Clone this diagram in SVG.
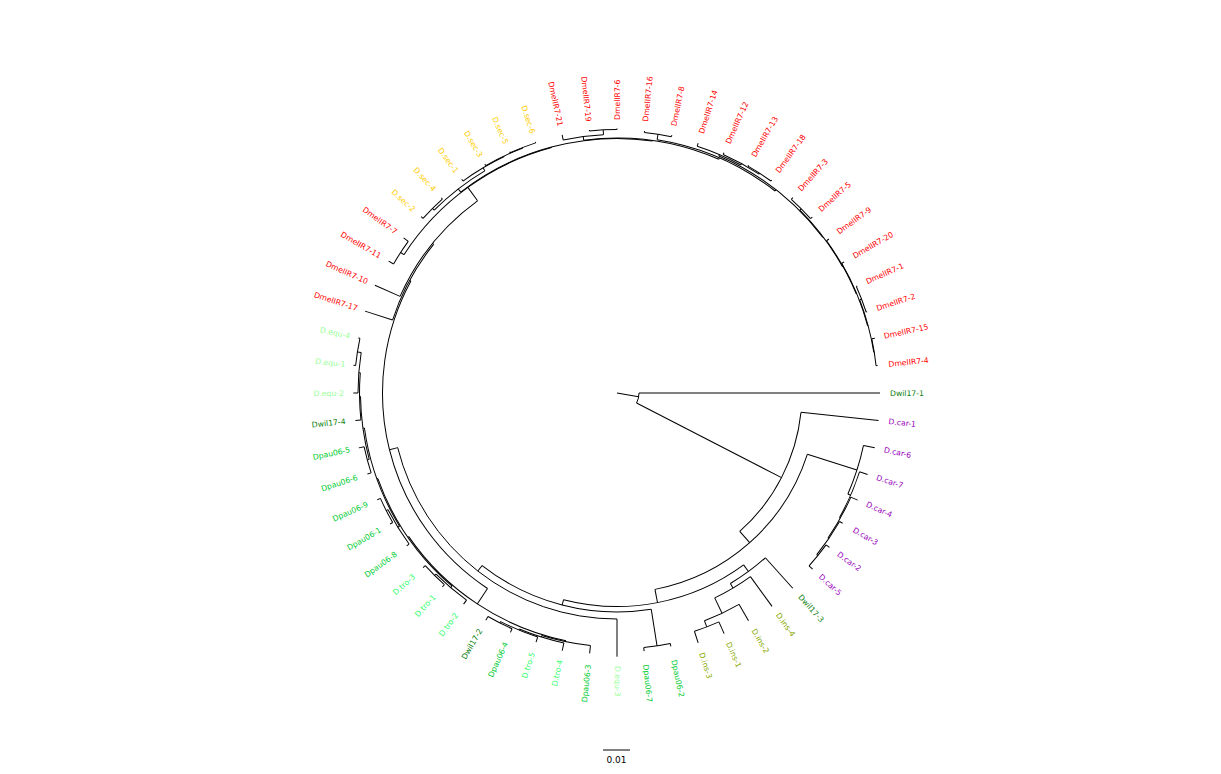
<svg xmlns="http://www.w3.org/2000/svg" width="1221" height="774" viewBox="0 0 1221 774">
<style>
text{font-family:"DejaVu Sans","Liberation Sans",sans-serif;font-size:7.7px;dominant-baseline:central}
.l{text-anchor:end}
.br path,.br circle{fill:none;stroke:#000;stroke-width:1}
.mel{fill:#ff0000}.sec{fill:#ffcc00}.equ{fill:#99ff99}.wil{fill:#0b800b}.pau{fill:#00cc33}.tro{fill:#33ff6e}.car{fill:#9900bb}.ins{fill:#88aa00}
</style>
<rect width="1221" height="774" fill="#fff"/>
<g id="connectors" class="br" transform="translate(617 393)">
<path d="M0 0H22" transform="rotate(10)"/>
<circle r="22" pathLength="360" stroke-dasharray="27.22 720"/>
<path d="M22 0H263"/>
<path d="M22 0H185" transform="rotate(27.22)"/>
<circle r="185" pathLength="360" stroke-dasharray="42.44 720" transform="rotate(6)"/>
<path d="M185 0H263" transform="rotate(6)"/>
<path d="M185 0H200" transform="rotate(48.44)"/>
<circle r="200" pathLength="360" stroke-dasharray="61.25 720" transform="rotate(17.81)"/>
<path d="M200 0H252" transform="rotate(17.81)"/>
<circle r="252" pathLength="360" stroke-dasharray="11.63 720" transform="rotate(12)"/>
<path d="M252 0H263.5" transform="rotate(12)"/>
<path d="M252 0H255" transform="rotate(23.63)"/>
<circle r="255" pathLength="360" stroke-dasharray="11.25 720" transform="rotate(18)"/>
<path d="M255 0H263.5" transform="rotate(18)"/>
<path d="M255 0H256" transform="rotate(29.25)"/>
<circle r="256" pathLength="360" stroke-dasharray="10.5 720" transform="rotate(24)"/>
<path d="M256 0H263.4" transform="rotate(24)"/>
<path d="M256 0H257" transform="rotate(34.5)"/>
<circle r="257" pathLength="360" stroke-dasharray="9 720" transform="rotate(30)"/>
<path d="M257 0H260.5" transform="rotate(30)"/>
<path d="M257 0H258.4" transform="rotate(39)"/>
<circle r="258.4" pathLength="360" stroke-dasharray="6 720" transform="rotate(36)"/>
<path d="M258.4 0H262.6" transform="rotate(36)"/>
<path d="M258.4 0H263.2" transform="rotate(42)"/>
<path d="M200 0H213.5" transform="rotate(79.06)"/>
<circle r="213.5" pathLength="360" stroke-dasharray="50.87 720" transform="rotate(53.63)"/>
<path d="M213.5 0H221.7" transform="rotate(53.63)"/>
<circle r="221.7" pathLength="360" stroke-dasharray="11.25 720" transform="rotate(48)"/>
<path d="M221.7 0H262.7" transform="rotate(48)"/>
<path d="M221.7 0H227" transform="rotate(59.25)"/>
<circle r="227" pathLength="360" stroke-dasharray="10.5 720" transform="rotate(54)"/>
<path d="M227 0H263.8" transform="rotate(54)"/>
<path d="M227 0H244" transform="rotate(64.5)"/>
<circle r="244" pathLength="360" stroke-dasharray="9 720" transform="rotate(60)"/>
<path d="M244 0H263" transform="rotate(60)"/>
<path d="M244 0H250.5" transform="rotate(69)"/>
<circle r="250.5" pathLength="360" stroke-dasharray="6 720" transform="rotate(66)"/>
<path d="M250.5 0H263.4" transform="rotate(66)"/>
<path d="M250.5 0H262.7" transform="rotate(72)"/>
<path d="M213.5 0H219" transform="rotate(104.5)"/>
<circle r="219" pathLength="360" stroke-dasharray="47.01 720" transform="rotate(81)"/>
<path d="M219 0H256" transform="rotate(81)"/>
<circle r="256" pathLength="360" stroke-dasharray="6 720" transform="rotate(78)"/>
<path d="M256 0H259" transform="rotate(78)"/>
<path d="M256 0H259.5" transform="rotate(84)"/>
<path d="M219 0H226" transform="rotate(128.01)"/>
<circle r="226" pathLength="360" stroke-dasharray="76.01 720" transform="rotate(90)"/>
<path d="M226 0H263.7" transform="rotate(90)"/>
<path d="M226 0H234.5" transform="rotate(166.01)"/>
<circle r="234.5" pathLength="360" stroke-dasharray="84.99 720" transform="rotate(123.52)"/>
<path d="M234.5 0H253" transform="rotate(123.52)"/>
<circle r="253" pathLength="360" stroke-dasharray="43.78 720" transform="rotate(101.63)"/>
<path d="M253 0H254" transform="rotate(101.63)"/>
<circle r="254" pathLength="360" stroke-dasharray="11.25 720" transform="rotate(96)"/>
<path d="M254 0H261.8" transform="rotate(96)"/>
<path d="M254 0H255.5" transform="rotate(107.25)"/>
<circle r="255.5" pathLength="360" stroke-dasharray="10.5 720" transform="rotate(102)"/>
<path d="M255.5 0H263.5" transform="rotate(102)"/>
<path d="M255.5 0H256.5" transform="rotate(112.5)"/>
<circle r="256.5" pathLength="360" stroke-dasharray="9 720" transform="rotate(108)"/>
<path d="M256.5 0H262" transform="rotate(108)"/>
<path d="M256.5 0H258" transform="rotate(117)"/>
<circle r="258" pathLength="360" stroke-dasharray="6 720" transform="rotate(114)"/>
<path d="M258 0H262" transform="rotate(114)"/>
<path d="M258 0H262.4" transform="rotate(120)"/>
<path d="M253 0H254" transform="rotate(145.41)"/>
<circle r="254" pathLength="360" stroke-dasharray="29.81 720" transform="rotate(130.5)"/>
<path d="M254 0H256" transform="rotate(130.5)"/>
<circle r="256" pathLength="360" stroke-dasharray="9 720" transform="rotate(126)"/>
<path d="M256 0H261" transform="rotate(126)"/>
<path d="M256 0H258" transform="rotate(135)"/>
<circle r="258" pathLength="360" stroke-dasharray="6 720" transform="rotate(132)"/>
<path d="M258 0H261" transform="rotate(132)"/>
<path d="M258 0H261" transform="rotate(138)"/>
<path d="M254 0H255" transform="rotate(160.31)"/>
<circle r="255" pathLength="360" stroke-dasharray="23.63 720" transform="rotate(148.5)"/>
<path d="M255 0H257" transform="rotate(148.5)"/>
<circle r="257" pathLength="360" stroke-dasharray="9 720" transform="rotate(144)"/>
<path d="M257 0H260" transform="rotate(144)"/>
<path d="M257 0H259" transform="rotate(153)"/>
<circle r="259" pathLength="360" stroke-dasharray="6 720" transform="rotate(150)"/>
<path d="M259 0H262" transform="rotate(150)"/>
<path d="M259 0H262.4" transform="rotate(156)"/>
<path d="M255 0H256.5" transform="rotate(172.13)"/>
<circle r="256.5" pathLength="360" stroke-dasharray="14.25 720" transform="rotate(165)"/>
<path d="M256.5 0H258.5" transform="rotate(165)"/>
<circle r="258.5" pathLength="360" stroke-dasharray="6 720" transform="rotate(162)"/>
<path d="M258.5 0H262.4" transform="rotate(162)"/>
<path d="M258.5 0H263.9" transform="rotate(168)"/>
<path d="M256.5 0H257.5" transform="rotate(179.25)"/>
<circle r="257.5" pathLength="360" stroke-dasharray="10.5 720" transform="rotate(174)"/>
<path d="M257.5 0H263" transform="rotate(174)"/>
<path d="M257.5 0H259" transform="rotate(184.5)"/>
<circle r="259" pathLength="360" stroke-dasharray="9 720" transform="rotate(180)"/>
<path d="M259 0H263.7" transform="rotate(180)"/>
<path d="M259 0H262.8" transform="rotate(189)"/>
<circle r="262.8" pathLength="360" stroke-dasharray="6 720" transform="rotate(186)"/>
<path d="M262.8 0H265" transform="rotate(186)"/>
<path d="M262.8 0H264.4" transform="rotate(192)"/>
<path d="M234.5 0H236" transform="rotate(208.51)"/>
<circle r="236" pathLength="360" stroke-dasharray="21.02 720" transform="rotate(198)"/>
<path d="M236 0H265" transform="rotate(198)"/>
<path d="M236 0H237.5" transform="rotate(219.02)"/>
<circle r="237.5" pathLength="360" stroke-dasharray="30.04 720" transform="rotate(204)"/>
<path d="M237.5 0H265" transform="rotate(204)"/>
<path d="M237.5 0H254" transform="rotate(234.04)"/>
<circle r="254" pathLength="360" stroke-dasharray="42.07 720" transform="rotate(213)"/>
<path d="M254 0H258" transform="rotate(213)"/>
<circle r="258" pathLength="360" stroke-dasharray="6 720" transform="rotate(210)"/>
<path d="M258 0H263.7" transform="rotate(210)"/>
<path d="M258 0H263.8" transform="rotate(216)"/>
<path d="M254 0H254.5" transform="rotate(255.07)"/>
<circle r="254.5" pathLength="360" stroke-dasharray="45.89 720" transform="rotate(232.13)"/>
<path d="M254.5 0H258.5" transform="rotate(232.13)"/>
<circle r="258.5" pathLength="360" stroke-dasharray="14.25 720" transform="rotate(225)"/>
<path d="M258.5 0H261" transform="rotate(225)"/>
<circle r="261" pathLength="360" stroke-dasharray="6 720" transform="rotate(222)"/>
<path d="M261 0H263.6" transform="rotate(222)"/>
<path d="M261 0H262.5" transform="rotate(228)"/>
<path d="M258.5 0H262" transform="rotate(239.25)"/>
<circle r="262" pathLength="360" stroke-dasharray="10.5 720" transform="rotate(234)"/>
<path d="M262 0H264.2" transform="rotate(234)"/>
<path d="M262 0H262.5" transform="rotate(244.5)"/>
<circle r="262.5" pathLength="360" stroke-dasharray="9 720" transform="rotate(240)"/>
<path d="M262.5 0H264.3" transform="rotate(240)"/>
<path d="M262.5 0H263" transform="rotate(249)"/>
<circle r="263" pathLength="360" stroke-dasharray="6 720" transform="rotate(246)"/>
<path d="M263 0H264" transform="rotate(246)"/>
<path d="M263 0H264" transform="rotate(252)"/>
<path d="M254.5 0H255" transform="rotate(278.02)"/>
<circle r="255" pathLength="360" stroke-dasharray="31.03 720" transform="rotate(262.5)"/>
<path d="M255 0H258.6" transform="rotate(262.5)"/>
<circle r="258.6" pathLength="360" stroke-dasharray="9 720" transform="rotate(258)"/>
<path d="M258.6 0H263.9" transform="rotate(258)"/>
<path d="M258.6 0H263.4" transform="rotate(267)"/>
<circle r="263.4" pathLength="360" stroke-dasharray="6 720" transform="rotate(264)"/>
<path d="M263.4 0H264.5" transform="rotate(264)"/>
<path d="M263.4 0H264.5" transform="rotate(270)"/>
<path d="M255 0H256.5" transform="rotate(293.53)"/>
<circle r="256.5" pathLength="360" stroke-dasharray="29.06 720" transform="rotate(279)"/>
<path d="M256.5 0H262" transform="rotate(279)"/>
<circle r="262" pathLength="360" stroke-dasharray="6 720" transform="rotate(276)"/>
<path d="M262 0H263.5" transform="rotate(276)"/>
<path d="M262 0H263.7" transform="rotate(282)"/>
<path d="M256.5 0H258" transform="rotate(308.06)"/>
<circle r="258" pathLength="360" stroke-dasharray="29.63 720" transform="rotate(293.25)"/>
<path d="M258 0H259.5" transform="rotate(293.25)"/>
<circle r="259.5" pathLength="360" stroke-dasharray="10.5 720" transform="rotate(288)"/>
<path d="M259.5 0H262.7" transform="rotate(288)"/>
<path d="M259.5 0H261" transform="rotate(298.5)"/>
<circle r="261" pathLength="360" stroke-dasharray="9 720" transform="rotate(294)"/>
<path d="M261 0H263" transform="rotate(294)"/>
<path d="M261 0H262" transform="rotate(303)"/>
<circle r="262" pathLength="360" stroke-dasharray="6 720" transform="rotate(300)"/>
<path d="M262 0H263.1" transform="rotate(300)"/>
<path d="M262 0H263.2" transform="rotate(306)"/>
<path d="M258 0H258.5" transform="rotate(322.88)"/>
<circle r="258.5" pathLength="360" stroke-dasharray="15.75 720" transform="rotate(315)"/>
<path d="M258.5 0H260.5" transform="rotate(315)"/>
<circle r="260.5" pathLength="360" stroke-dasharray="6 720" transform="rotate(312)"/>
<path d="M260.5 0H262.8" transform="rotate(312)"/>
<path d="M260.5 0H262.8" transform="rotate(318)"/>
<path d="M258.5 0H259" transform="rotate(330.75)"/>
<circle r="259" pathLength="360" stroke-dasharray="13.5 720" transform="rotate(324)"/>
<path d="M259 0H262" transform="rotate(324)"/>
<path d="M259 0H259.5" transform="rotate(337.5)"/>
<circle r="259.5" pathLength="360" stroke-dasharray="15 720" transform="rotate(330)"/>
<path d="M259.5 0H262.3" transform="rotate(330)"/>
<path d="M259.5 0H260" transform="rotate(345)"/>
<circle r="260" pathLength="360" stroke-dasharray="12 720" transform="rotate(339)"/>
<path d="M260 0H262" transform="rotate(339)"/>
<circle r="262" pathLength="360" stroke-dasharray="6 720" transform="rotate(336)"/>
<path d="M262 0H263" transform="rotate(336)"/>
<path d="M262 0H263" transform="rotate(342)"/>
<path d="M260 0H260.5" transform="rotate(351)"/>
<circle r="260.5" pathLength="360" stroke-dasharray="6 720" transform="rotate(348)"/>
<path d="M260.5 0H263.6" transform="rotate(348)"/>
<path d="M260.5 0H262" transform="rotate(354)"/>
</g>
<g id="tips" transform="translate(617 393)">
<g id="t0"><text class="wil" transform="rotate(0) translate(273 0)">Dwil17-1</text></g>
<g id="t1"><text class="car" transform="rotate(6) translate(273 0)">D.car-1</text></g>
<g id="t2"><text class="car" transform="rotate(12) translate(273 0)">D.car-6</text></g>
<g id="t3"><text class="car" transform="rotate(18) translate(273 0)">D.car-7</text></g>
<g id="t4"><text class="car" transform="rotate(24) translate(273 0)">D.car-4</text></g>
<g id="t5"><text class="car" transform="rotate(30) translate(273 0)">D.car-3</text></g>
<g id="t6"><text class="car" transform="rotate(36) translate(273 0)">D.car-2</text></g>
<g id="t7"><text class="car" transform="rotate(42) translate(273 0)">D.car-5</text></g>
<g id="t8"><text class="wil" transform="rotate(48) translate(273 0)">Dwil17-3</text></g>
<g id="t9"><text class="ins" transform="rotate(54) translate(273 0)">D.ins-4</text></g>
<g id="t10"><text class="ins" transform="rotate(60) translate(273 0)">D.ins-2</text></g>
<g id="t11"><text class="ins" transform="rotate(66) translate(273 0)">D.ins-1</text></g>
<g id="t12"><text class="ins" transform="rotate(72) translate(273 0)">D.ins-3</text></g>
<g id="t13"><text class="pau" transform="rotate(78) translate(273 0)">Dpau06-2</text></g>
<g id="t14"><text class="pau" transform="rotate(84) translate(273 0)">Dpau06-7</text></g>
<g id="t15"><text class="equ" transform="rotate(90) translate(273 0)">D.equ-3</text></g>
<g id="t16"><text class="pau l" transform="rotate(96) translate(273 0) rotate(180)">Dpau06-3</text></g>
<g id="t17"><text class="tro l" transform="rotate(102) translate(273 0) rotate(180)">D.tro-4</text></g>
<g id="t18"><text class="tro l" transform="rotate(108) translate(273 0) rotate(180)">D.tro-5</text></g>
<g id="t19"><text class="pau l" transform="rotate(114) translate(273 0) rotate(180)">Dpau06-4</text></g>
<g id="t20"><text class="wil l" transform="rotate(120) translate(273 0) rotate(180)">Dwil17-2</text></g>
<g id="t21"><text class="tro l" transform="rotate(126) translate(273 0) rotate(180)">D.tro-2</text></g>
<g id="t22"><text class="tro l" transform="rotate(132) translate(273 0) rotate(180)">D.tro-1</text></g>
<g id="t23"><text class="tro l" transform="rotate(138) translate(273 0) rotate(180)">D.tro-3</text></g>
<g id="t24"><text class="pau l" transform="rotate(144) translate(273 0) rotate(180)">Dpau06-8</text></g>
<g id="t25"><text class="pau l" transform="rotate(150) translate(273 0) rotate(180)">Dpau06-1</text></g>
<g id="t26"><text class="pau l" transform="rotate(156) translate(273 0) rotate(180)">Dpau06-9</text></g>
<g id="t27"><text class="pau l" transform="rotate(162) translate(273 0) rotate(180)">Dpau06-6</text></g>
<g id="t28"><text class="pau l" transform="rotate(168) translate(273 0) rotate(180)">Dpau06-5</text></g>
<g id="t29"><text class="wil l" transform="rotate(174) translate(273 0) rotate(180)">Dwil17-4</text></g>
<g id="t30"><text class="equ l" transform="rotate(180) translate(273 0) rotate(180)">D.equ-2</text></g>
<g id="t31"><text class="equ l" transform="rotate(186) translate(273 0) rotate(180)">D.equ-1</text></g>
<g id="t32"><text class="equ l" transform="rotate(192) translate(273 0) rotate(180)">D.equ-4</text></g>
<g id="t33"><text class="mel l" transform="rotate(198) translate(273 0) rotate(180)">DmelIR7-17</text></g>
<g id="t34"><text class="mel l" transform="rotate(204) translate(273 0) rotate(180)">DmelIR7-10</text></g>
<g id="t35"><text class="mel l" transform="rotate(210) translate(273 0) rotate(180)">DmelIR7-11</text></g>
<g id="t36"><text class="mel l" transform="rotate(216) translate(273 0) rotate(180)">DmelIR7-7</text></g>
<g id="t37"><text class="sec l" transform="rotate(222) translate(273 0) rotate(180)">D.sec-2</text></g>
<g id="t38"><text class="sec l" transform="rotate(228) translate(273 0) rotate(180)">D.sec-4</text></g>
<g id="t39"><text class="sec l" transform="rotate(234) translate(273 0) rotate(180)">D.sec-1</text></g>
<g id="t40"><text class="sec l" transform="rotate(240) translate(273 0) rotate(180)">D.sec-3</text></g>
<g id="t41"><text class="sec l" transform="rotate(246) translate(273 0) rotate(180)">D.sec-5</text></g>
<g id="t42"><text class="sec l" transform="rotate(252) translate(273 0) rotate(180)">D.sec-6</text></g>
<g id="t43"><text class="mel l" transform="rotate(258) translate(273 0) rotate(180)">DmelIR7-21</text></g>
<g id="t44"><text class="mel l" transform="rotate(264) translate(273 0) rotate(180)">DmelIR7-19</text></g>
<g id="t45"><text class="mel" transform="rotate(270) translate(273 0)">DmelIR7-6</text></g>
<g id="t46"><text class="mel" transform="rotate(276) translate(273 0)">DmelIR7-16</text></g>
<g id="t47"><text class="mel" transform="rotate(282) translate(273 0)">DmelIR7-8</text></g>
<g id="t48"><text class="mel" transform="rotate(288) translate(273 0)">DmelIR7-14</text></g>
<g id="t49"><text class="mel" transform="rotate(294) translate(273 0)">DmelIR7-12</text></g>
<g id="t50"><text class="mel" transform="rotate(300) translate(273 0)">DmelIR7-13</text></g>
<g id="t51"><text class="mel" transform="rotate(306) translate(273 0)">DmelIR7-18</text></g>
<g id="t52"><text class="mel" transform="rotate(312) translate(273 0)">DmelIR7-3</text></g>
<g id="t53"><text class="mel" transform="rotate(318) translate(273 0)">DmelIR7-5</text></g>
<g id="t54"><text class="mel" transform="rotate(324) translate(273 0)">DmelIR7-9</text></g>
<g id="t55"><text class="mel" transform="rotate(330) translate(273 0)">DmelIR7-20</text></g>
<g id="t56"><text class="mel" transform="rotate(336) translate(273 0)">DmelIR7-1</text></g>
<g id="t57"><text class="mel" transform="rotate(342) translate(273 0)">DmelIR7-2</text></g>
<g id="t58"><text class="mel" transform="rotate(348) translate(273 0)">DmelIR7-15</text></g>
<g id="t59"><text class="mel" transform="rotate(354) translate(273 0)">DmelIR7-4</text></g>
</g>
<g id="scale-bar">
<path d="M603 750H630" stroke="#000" stroke-width="1"/>
<text x="616.5" y="760" text-anchor="middle" style="font-size:9px">0.01</text>
</g>
</svg>
